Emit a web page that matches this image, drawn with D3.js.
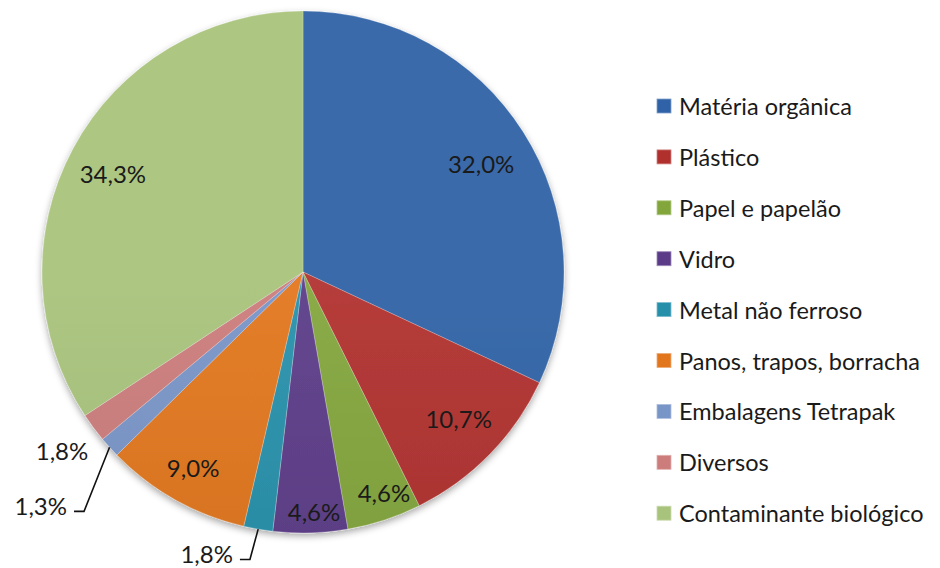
<!DOCTYPE html>
<html>
<head>
<meta charset="utf-8">
<script src="https://cdn.jsdelivr.net/npm/d3@7"></script>
<style>
  body { margin: 0; background: #fff; }
  text { font-family: Lato, "Open Sans", sans-serif; fill: #1a1a1a; }
</style>
</head>
<body>
<div id="chart"></div>
<script>
var categories = ["Matéria orgânica", "Plástico", "Papel e papelão", "Vidro",
  "Metal não ferroso", "Panos, trapos, borracha", "Embalagens Tetrapak",
  "Diversos", "Contaminante biológico"];
var values = [32.0, 10.7, 4.6, 4.6, 1.8, 9.0, 1.3, 1.8, 34.3];
var labels = ["32,0%", "10,7%", "4,6%", "4,6%", "1,8%", "9,0%", "1,3%", "1,8%", "34,3%"];
var palette = ["#2f62a6", "#b0302d", "#82a63b", "#5b3b88", "#2690ab",
  "#e2761c", "#7895c8", "#cc7c7b", "#a8c37b"];

// label placement: radius factor, angle nudge (deg), leader line
var labelLayout = [
  {r: 0.80, da: 1}, {r: 0.82, da: -1}, {r: 0.90, da: -2}, {r: 0.92, da: -1},
  {r: 1.14, da: 9, leader: true}, {r: 0.86, da: 0},
  {r: 1.345, da: 0.5, leader: true}, {r: 1.15, da: 0}, {r: 0.82, da: -1}
];

var width = 940, height = 568;
var cx = 303, cy = 272, R = 261;

var svg = d3.select("#chart").append("svg")
  .attr("width", width).attr("height", height);

var defs = svg.append("defs");
var shadow = defs.append("filter").attr("id", "shadow")
  .attr("x", "-10%").attr("y", "-10%").attr("width", "120%").attr("height", "125%");
shadow.append("feDropShadow")
  .attr("dx", 0).attr("dy", 3).attr("stdDeviation", 3.5)
  .attr("flood-color", "#000").attr("flood-opacity", 0.35);

palette.forEach(function(c, i) {
  var g = defs.append("linearGradient").attr("id", "grad" + i)
    .attr("gradientUnits", "userSpaceOnUse")
    .attr("x1", 0).attr("x2", 0).attr("y1", cy - R).attr("y2", cy + R);
  g.append("stop").attr("offset", 0).attr("stop-color", d3.interpolateRgb(c, "#fff")(0.06));
  g.append("stop").attr("offset", 1).attr("stop-color", d3.color(c).darker(0.3));
});

var pie = d3.pie().sort(null).value(function(d) { return d; });
var arcs = pie(values);
var arc = d3.arc().innerRadius(0).outerRadius(R);

var g = svg.append("g").attr("transform", "translate(" + cx + "," + cy + ")");

g.append("g").attr("filter", "url(#shadow)")
  .selectAll("path")
  .data(arcs)
  .enter()
  .append("path")
  .attr("d", arc)
  .attr("fill", function(d, i) { return "url(#grad" + i + ")"; })
  .attr("stroke", "rgba(255,255,255,0.3)")
  .attr("stroke-width", 0.8);

function polar(a, r) {
  return [Math.sin(a) * r, -Math.cos(a) * r];
}

arcs.forEach(function(d, i) {
  var lay = labelLayout[i];
  var mid = (d.startAngle + d.endAngle) / 2;
  var p = polar(mid + lay.da * Math.PI / 180, R * lay.r);
  var t = g.append("text")
    .attr("x", p[0]).attr("y", p[1])
    .attr("text-anchor", "middle")
    .attr("dominant-baseline", "central")
    .style("font-size", "24px")
    .text(labels[i]);
  if (lay.leader) {
    var w = t.node().getComputedTextLength();
    var e = polar(mid, R);
    var right = p[0] + w / 2;
    var ly = p[1] + 6;
    g.append("path")
      .attr("d", d3.line()([e, [right + 17, ly], [right + 7, ly]]))
      .attr("fill", "none")
      .attr("stroke", "#111")
      .attr("stroke-width", 1.6);
  }
});

// legend
var legend = svg.append("g").attr("transform", "translate(657,106)");
var rowH = 50.9;
var item = legend.selectAll("g")
  .data(categories)
  .enter()
  .append("g")
  .attr("transform", function(d, i) { return "translate(0," + (i * rowH) + ")"; });
item.append("rect")
  .attr("x", 0).attr("y", -7).attr("width", 14).attr("height", 14)
  .attr("fill", function(d, i) { return palette[i]; })
  .attr("stroke", function(d, i) { return d3.interpolateRgb(palette[i], "#fff")(0.4); })
  .attr("stroke-width", 0.8);
item.append("text")
  .attr("x", 22).attr("y", 0)
  .attr("dominant-baseline", "central")
  .style("font-size", "23.5px")
  .text(function(d) { return d; });
</script>
</body>
</html>
